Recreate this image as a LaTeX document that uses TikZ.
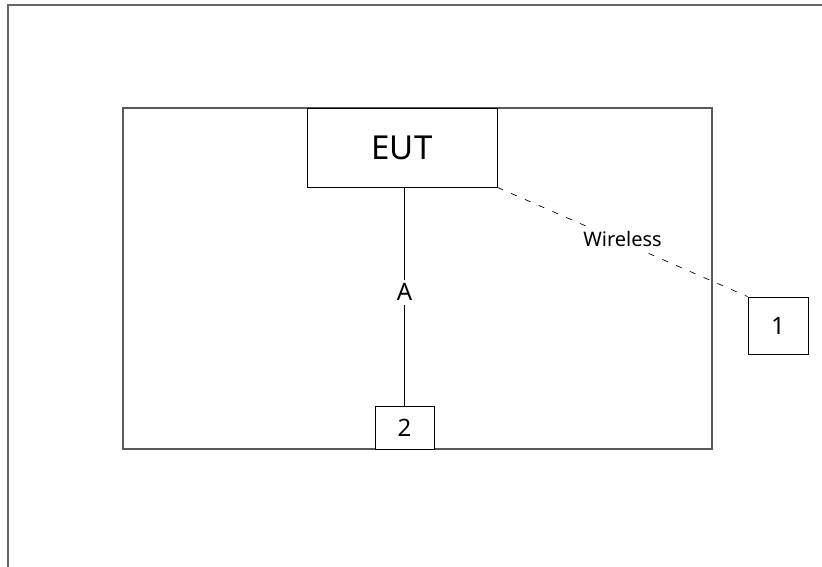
\documentclass[tikz,border=0pt]{standalone}
\usepackage{fontspec}
\setmainfont{Noto Sans}
\begin{document}
\begin{tikzpicture}[x=1pt,y=-1pt,
  frame/.style={draw=black!60, line width=1.6pt},
  encl/.style={draw=black!65, line width=1.2pt},
  boxnode/.style={draw=black, line width=0.8pt, inner sep=0pt, fill=white},
  lbl/.style={fill=white, inner sep=2pt}]
\useasboundingbox (0,0) rectangle (822,567);
\fill[white] (0,0) rectangle (822,567);
% outer frame (left and top edges)
\coordinate (ftl) at (8,5);
\coordinate (fbl) at (8,568);
\coordinate (ftr) at (823,5);
\draw[frame] (fbl) -- (ftl) -- (ftr);
% enclosure
\draw[encl] (123,108) rectangle (712,449);
% nodes
\node[boxnode, minimum width=190pt, minimum height=79pt, font=\fontsize{33}{38}\selectfont] (eut) at (402,147.5) {EUT};
\node[boxnode, minimum width=59pt, minimum height=43pt, font=\fontsize{24}{28}\selectfont] (b2) at (404.5,427.5) {2};
\node[boxnode, minimum width=60pt, minimum height=57pt, font=\fontsize{24}{28}\selectfont] (b1) at (778,325.5) {1};
% connectors
\draw[line width=0.8pt] (b2.north) -- node[lbl, inner sep=4pt, pos=0.52, font=\fontsize{24}{28}\selectfont] {A} (b2.north |- eut.south);
\draw[line width=0.7pt, dash pattern=on 6pt off 9pt] (eut.south east) -- node[lbl, inner sep=4pt, pos=0.5, yshift=3pt, font=\fontsize{20}{24}\selectfont] {Wireless} (b1.north west);
\end{tikzpicture}
\end{document}
